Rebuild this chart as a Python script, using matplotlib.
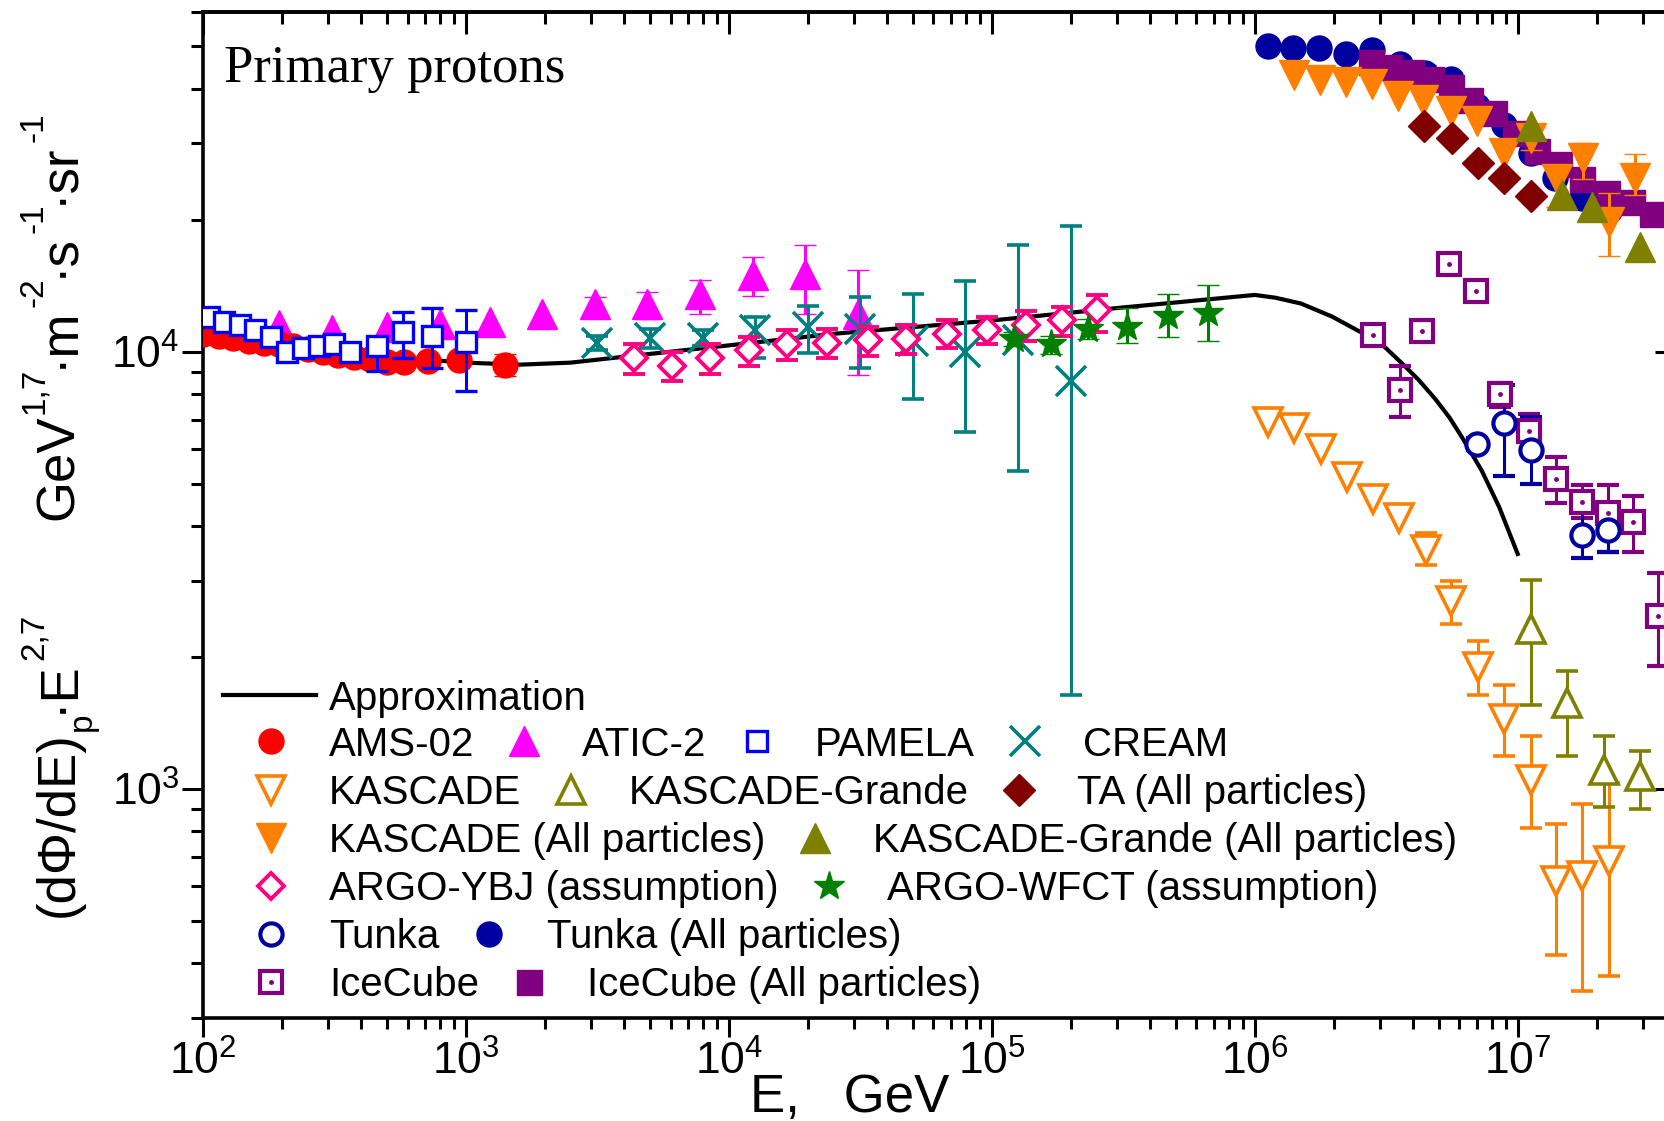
import numpy as np
import matplotlib
matplotlib.use("Agg")
import matplotlib.pyplot as plt
from matplotlib.lines import Line2D
from matplotlib.ticker import FuncFormatter, NullFormatter
from matplotlib.font_manager import FontProperties

plt.rcParams["font.family"] = ["Liberation Sans", "DejaVu Sans"]
plt.rcParams["mathtext.fontset"] = "custom"
plt.rcParams["mathtext.rm"] = "Liberation Sans"
plt.rcParams["mathtext.it"] = "Liberation Sans:italic"
plt.rcParams["mathtext.default"] = "regular"

nan = np.nan

# ---- data (E in GeV, flux * E^2.7) ----
approx_E = [1e2, 2e2, 5e2, 1e3, 1.6e3, 2.5e3, 4e3, 1e4, 2.5e4, 1e5, 3e5, 1e6, 1.2e6, 1.5e6,
            1.97e6, 2.57e6, 3.1e6, 3.64e6, 4.2e6, 4.87e6, 5.5e6, 6.15e6, 7.3e6, 8.5e6, 1e7]
approx_F = [1.10e4, 1.045e4, 9.75e3, 9.45e3, 9.35e3, 9.45e3, 9.75e3, 1.035e4, 1.10e4, 1.18e4,
            1.26e4, 1.35e4, 1.33e4, 1.29e4, 1.204e4, 1.104e4, 1.03e4, 9.4e3, 8.63e3, 7.79e3,
            7.08e3, 6.37e3, 5.35e3, 4.42e3, 3.45e3]

ams_E = [100, 115, 130, 150, 170, 195, 220, 250, 285, 325, 375, 430, 500, 580, 720, 940, 1410]
ams_F = [1.10e4, 1.09e4, 1.075e4, 1.06e4, 1.05e4, 1.04e4, 1.03e4, 1.015e4, 1.0e4, 9.85e3,
         9.75e3, 9.65e3, 9.5e3, 9.5e3, 9.55e3, 9.6e3, 9.35e3]
ams_lo = [nan] * 16 + [8.8e3]
ams_hi = [nan] * 16 + [9.9e3]

pamela_E = [105, 120, 138, 158, 182, 209, 240, 275, 316, 363, 457, 575, 741, 1000]
pamela_F = [1.20e4, 1.17e4, 1.15e4, 1.12e4, 1.08e4, 1.0e4, 1.02e4, 1.03e4, 1.04e4, 1.0e4,
            1.03e4, 1.11e4, 1.085e4, 1.055e4]
pamela_lo = [nan] * 10 + [9.03e3, 9.68e3, 9.19e3, 8.16e3]
pamela_hi = [nan] * 10 + [1.084e4, 1.236e4, 1.262e4, 1.247e4]

atic_E = [195, 309, 501, 794, 1230, 1950, 3090, 4900, 7760, 12300, 19500, 30900]
atic_F = [1.15e4, 1.12e4, 1.14e4, 1.16e4, 1.17e4, 1.22e4, 1.29e4, 1.29e4, 1.36e4, 1.50e4,
          1.51e4, 1.22e4]
atic_lo = [nan, nan, nan, nan, nan, nan, 1.225e4, 1.19e4, 1.22e4, 1.34e4, 1.22e4, 8.85e3]
atic_hi = [nan, nan, nan, nan, nan, nan, 1.335e4, 1.37e4, 1.46e4, 1.65e4, 1.76e4, 1.54e4]

cream_E = [3160, 5010, 7940, 12600, 19950, 31600, 50100, 79400, 125900, 199500]
cream_F = [1.05e4, 1.075e4, 1.075e4, 1.12e4, 1.14e4, 1.13e4, 1.06e4, 1.0e4, 1.065e4, 8.6e3]
cream_lo = [1.01e4, 1.02e4, 1.03e4, 9.7e3, 9.94e3, 9.2e3, 7.8e3, 6.55e3, 5.35e3, 1.64e3]
cream_hi = [1.09e4, 1.13e4, 1.12e4, 1.20e4, 1.275e4, 1.335e4, 1.36e4, 1.45e4, 1.76e4, 1.94e4]

argo_E = [4365, 6095, 8510, 11885, 16600, 23710, 33900, 47300, 67600, 95500, 134900,
          184100, 251200]
argo_F = [9.7e3, 9.3e3, 9.7e3, 1.01e4, 1.04e4, 1.05e4, 1.065e4, 1.07e4, 1.10e4, 1.12e4,
          1.15e4, 1.18e4, 1.25e4]
argo_lo = [8.9e3, 8.6e3, 8.9e3, 9.3e3, 9.6e3, 9.7e3, 9.8e3, 9.9e3, 1.02e4, 1.04e4, 1.06e4,
           1.09e4, 1.11e4]
argo_hi = [1.04e4, 1.0e4, 1.04e4, 1.08e4, 1.12e4, 1.13e4, 1.14e4, 1.15e4, 1.18e4, 1.20e4,
           1.24e4, 1.27e4, 1.35e4]

wfct_E = [121600, 168300, 232800, 328100, 466700, 665300]
wfct_F = [1.07e4, 1.04e4, 1.13e4, 1.14e4, 1.21e4, 1.23e4]
wfct_lo = [1.03e4, 9.9e3, 1.07e4, 1.05e4, 1.08e4, 1.06e4]
wfct_hi = [1.11e4, 1.09e4, 1.19e4, 1.26e4, 1.36e4, 1.42e4]

kas_E = [1.12e6, 1.41e6, 1.78e6, 2.25e6, 2.82e6, 3.53e6, 4.47e6, 5.6e6, 7.06e6, 8.85e6,
         1.12e7, 1.4e7, 1.75e7, 2.22e7]
kas_F = [6.9e3, 6.7e3, 6.0e3, 5.17e3, 4.62e3, 4.16e3, 3.52e3, 2.69e3, 1.90e3, 1.45e3,
         1.05e3, 616, 634, 686]
kas_lo = [nan] * 6 + [3.26e3, 2.39e3, 1.64e3, 1.19e3, 815, 417, 346, 374]
kas_hi = [nan] * 6 + [3.85e3, 2.99e3, 2.18e3, 1.73e3, 1.32e3, 834, 926, 1.03e3]

kg_E = [1.12e7, 1.54e7, 2.12e7, 2.92e7]
kg_F = [2.32e3, 1.57e3, 1.107e3, 1.07e3]
kg_lo = [1.56e3, 1.19e3, 908, 901]
kg_hi = [3.01e3, 1.86e3, 1.32e3, 1.22e3]

tunka_E = [7.01e6, 8.85e6, 1.12e7, 1.75e7, 2.2e7]
tunka_F = [6.15e3, 6.89e3, 5.97e3, 3.81e3, 3.91e3]
tunka_lo = [5.95e3, 5.19e3, 4.99e3, 3.37e3, 3.49e3]
tunka_hi = [6.35e3, 8.42e3, 7.08e3, 4.42e3, 4.37e3]

ice_E = [2.81e6, 3.56e6, 4.34e6, 5.47e6, 6.92e6, 8.59e6, 1.10e7, 1.40e7, 1.75e7, 2.20e7,
         2.75e7, 3.43e7]
ice_F = [1.094e4, 8.2e3, 1.117e4, 1.59e4, 1.378e4, 8.0e3, 6.6e3, 5.13e3, 4.54e3, 4.27e3,
         4.08e3, 2.49e3]
ice_lo = [nan, 7.08e3, nan, nan, nan, 7.5e3, 6.27e3, 4.51e3, 4.17e3, 3.49e3, 3.49e3, 1.91e3]
ice_hi = [nan, 9.27e3, nan, nan, nan, 8.5e3, 7.21e3, 5.74e3, 4.95e3, 4.95e3, 4.68e3, 3.12e3]

tunka_all_E = [1.12e6, 1.40e6, 1.76e6, 2.23e6, 2.79e6, 3.56e6, 4.44e6, 5.56e6, 7.02e6,
               8.85e6, 1.12e7, 1.39e7, 1.75e7, 2.22e7]
tunka_all_F = [5.0e4, 4.95e4, 4.95e4, 4.8e4, 4.9e4, 4.55e4, 4.35e4, 4.2e4, 3.65e4, 3.3e4,
               2.85e4, 2.5e4, 2.25e4, 2.1e4]
tunka_all_lo = [nan, nan, nan, nan, 4.7e4, 4.37e4, 4.18e4, 4.03e4, nan, nan, nan, nan, nan, nan]
tunka_all_hi = [nan, nan, nan, nan, 5.1e4, 4.73e4, 4.52e4, 4.37e4, nan, nan, nan, nan, nan, nan]

ice_all_E = [2.76e6, 3.24e6, 3.92e6, 4.67e6, 5.56e6, 6.61e6, 8.11e6, 9.79e6, 1.18e7, 1.43e7,
             1.75e7, 2.18e7, 2.72e7, 3.24e7]
ice_all_F = [4.6e4, 4.49e4, 4.37e4, 4.22e4, 4.04e4, 3.77e4, 3.52e4, 3.16e4, 2.88e4, 2.69e4,
             2.48e4, 2.31e4, 2.2e4, 2.07e4]

kas_all_E = [1.41e6, 1.77e6, 2.23e6, 2.80e6, 3.51e6, 4.37e6, 5.56e6, 7.0e6, 8.85e6, 1.12e7,
             1.41e7, 1.77e7, 2.22e7, 2.80e7]
kas_all_F = [4.3e4, 4.18e4, 4.15e4, 4.11e4, 3.84e4, 3.77e4, 3.55e4, 3.37e4, 2.85e4, 3.08e4,
             2.48e4, 2.78e4, 1.98e4, 2.5e4]
kas_all_lo = [nan] * 9 + [2.9e4, 2.15e4, 2.49e4, 1.66e4, 2.28e4]
kas_all_hi = [nan] * 9 + [3.2e4, 2.65e4, 3.0e4, 2.31e4, 2.83e4]

ta_E = [4.40e6, 5.62e6, 7.06e6, 8.85e6, 1.12e7]
ta_F = [3.28e4, 3.08e4, 2.7e4, 2.5e4, 2.27e4]

kg_all_E = [1.12e7, 1.48e7, 1.91e7, 2.92e7]
kg_all_F = [3.28e4, 2.28e4, 2.14e4, 1.74e4]

# ---- styles ----
RED, MAG, BLUE, TEAL = "#FF0000", "#FF00FF", "#0000FF", "#008080"
ORANGE, OLIVE, DRED, PINK = "#FF8000", "#808000", "#800000", "#FF0080"
GREEN, NAVY, PURPLE = "#008000", "#0000A0", "#800080"

sty = {
    "ams": dict(marker="o", ms=18, mfc=RED, mec=RED, mew=1, color=RED),
    "atic": dict(marker="^", ms=21, mfc=MAG, mec=MAG, mew=1, color=MAG),
    "pamela": dict(marker="s", ms=15, mfc="white", mec=BLUE, mew=2.4, color=BLUE),
    "cream": dict(marker="x", ms=21, mec=TEAL, mew=2.6, color=TEAL),
    "kas": dict(marker="v", ms=20, mfc="white", mec=ORANGE, mew=2.6, color=ORANGE),
    "kg": dict(marker="^", ms=20, mfc="white", mec=OLIVE, mew=2.6, color=OLIVE),
    "ta": dict(marker="D", ms=16, mfc=DRED, mec=DRED, mew=1, color=DRED),
    "kas_all": dict(marker="v", ms=21, mfc=ORANGE, mec=ORANGE, mew=1, color=ORANGE),
    "kg_all": dict(marker="^", ms=21, mfc=OLIVE, mec=OLIVE, mew=1, color=OLIVE),
    "argo": dict(marker="D", ms=13, mfc="white", mec=PINK, mew=2.8, color=PINK),
    "wfct": dict(marker="*", ms=22, mfc=GREEN, mec=GREEN, mew=1, color=GREEN),
    "tunka": dict(marker="o", ms=16, mfc="white", mec=NAVY, mew=3, color=NAVY),
    "tunka_all": dict(marker="o", ms=18, mfc=NAVY, mec=NAVY, mew=1, color=NAVY),
    "ice": dict(marker="s", ms=16, mfc="white", mec=PURPLE, mew=3, color=PURPLE),
    "ice_all": dict(marker="s", ms=18, mfc=PURPLE, mec=PURPLE, mew=1, color=PURPLE),
}
ice_dot = dict(marker="o", ms=3.5, mfc=PURPLE, mec=PURPLE, mew=0, color=PURPLE)

W, H = 1665, 1121
fig = plt.figure(figsize=(W / 100, H / 100), dpi=100)
ax = fig.add_axes([203 / W, 1 - 1017.7 / H, (1676 - 203) / W, (1017.7 - 11.7) / H])
ax.set_xscale("log")
ax.set_yscale("log")


def draw(E, F, st, lo=None, hi=None, z=3):
    E = np.asarray(E, float)
    F = np.asarray(F, float)
    if lo is None:
        ax.plot(E, F, ls="none", zorder=z, **st)
    else:
        yerr = [F - np.asarray(lo, float), np.asarray(hi, float) - F]
        ax.errorbar(E, F, yerr=yerr, ls="none", capsize=8, elinewidth=2.2, capthick=2.2,
                    ecolor=st["color"], zorder=z, **st)


ax.plot(approx_E, approx_F, color="black", lw=3, zorder=2)

draw(atic_E, atic_F, sty["atic"], atic_lo, atic_hi, z=3)
draw(ams_E, ams_F, sty["ams"], ams_lo, ams_hi, z=4)
draw(pamela_E, pamela_F, sty["pamela"], pamela_lo, pamela_hi, z=5)
draw(cream_E, cream_F, sty["cream"], cream_lo, cream_hi, z=5)
draw(argo_E, argo_F, sty["argo"], argo_lo, argo_hi, z=6)
draw(wfct_E, wfct_F, sty["wfct"], wfct_lo, wfct_hi, z=6)
draw(kas_E, kas_F, sty["kas"], kas_lo, kas_hi, z=5)
draw(kg_E, kg_F, sty["kg"], kg_lo, kg_hi, z=5)
draw(tunka_all_E, tunka_all_F, sty["tunka_all"], tunka_all_lo, tunka_all_hi, z=4)
draw(ice_all_E, ice_all_F, sty["ice_all"], z=5)
draw(kas_all_E, kas_all_F, sty["kas_all"], kas_all_lo, kas_all_hi, z=6)
draw(kg_all_E, kg_all_F, sty["kg_all"], z=7)
draw(ta_E, ta_F, sty["ta"], z=7)
draw(ice_E, ice_F, sty["ice"], ice_lo, ice_hi, z=6)
ax.plot(ice_E, ice_F, ls="none", zorder=6.5, **ice_dot)
draw(tunka_E, tunka_F, sty["tunka"], tunka_lo, tunka_hi, z=6)

ax.set_xlim(1e2, 4e7)
ax.set_ylim(300, 6e4)

# ---- axes styling ----
for s in ax.spines.values():
    s.set_linewidth(2.6)
fmt = FuncFormatter(lambda v, p: "10$^{%d}$" % int(round(np.log10(v))))
ax.xaxis.set_major_formatter(fmt)
ax.yaxis.set_major_formatter(fmt)
ax.xaxis.set_minor_formatter(NullFormatter())
ax.yaxis.set_minor_formatter(NullFormatter())
ax.tick_params(axis="x", which="major", direction="out", length=13.5, width=2.2, pad=3,
               labelsize=32, top=False)
ax.tick_params(axis="x", which="minor", direction="out", length=8, width=2.2, top=False)
ax.tick_params(axis="y", which="major", direction="out", length=15, width=2.2, pad=2,
               labelsize=32, right=False)
ax.tick_params(axis="y", which="minor", direction="out", length=8.6, width=2.2, right=False)

top = ax.secondary_xaxis("top")
top.tick_params(which="major", direction="in", length=16, width=2.2, labeltop=False)
top.tick_params(which="minor", direction="in", length=8.6, width=2.2)
top.xaxis.set_major_formatter(NullFormatter())
top.spines["top"].set_linewidth(2.6)
right = ax.secondary_yaxis("right")
right.tick_params(which="major", direction="in", length=15, width=2.2, labelright=False)
right.tick_params(which="minor", direction="in", length=8.6, width=2.2)
right.yaxis.set_major_formatter(NullFormatter())

# ---- texts ----
fig.text(224 / W, 1 - 81.7 / H, "Primary protons", family="Liberation Serif", fontsize=38,
         va="baseline", ha="left")
fig.text(750 / W, 1 - 1112 / H, "E,   GeV", fontsize=38, va="baseline", ha="left")

fig.canvas.draw()
renderer = fig.canvas.get_renderer()


def rotated_label(pieces, x_base, y_top_px):
    # lays out text pieces upward along a vertical baseline (rotated 90 deg)
    y = H - y_top_px
    for s, size, shift in pieces:
        fig.text((x_base - shift) / W, y / H, s, fontsize=size, rotation=90,
                 rotation_mode="anchor", ha="left", va="baseline")
        w, _, _ = renderer.get_text_width_height_descent(
            s, FontProperties(family="Liberation Sans", size=size), ismath=False)
        y += w


rotated_label([("(dΦ/dE)", 38, 0), ("p", 24, -18), ("·E", 38, 0), ("2,7", 24, 30)],
              73, 917)
rotated_label([("GeV", 38, 0), ("1,7", 24, 30), ("·m", 38, 0), ("-2", 24, 30),
               ("·s", 38, 0), ("-1", 24, 30), ("·sr", 38, 0), ("-1", 24, 30)],
              73, 520)

# ---- legend (manual rows) ----
LFS = 29
fig.add_artist(Line2D([223 / W, 316 / W], [1 - 695 / H] * 2, transform=fig.transFigure,
                      color="black", lw=3))
fig.text(329 / W, 1 - (695 + 14.5) / H, "Approximation", fontsize=LFS, va="baseline")

rows = [
    (741, [("AMS-02", "ams"), ("ATIC-2", "atic"), ("PAMELA", "pamela"), ("CREAM", "cream")]),
    (790, [("KASCADE", "kas"), ("KASCADE-Grande", "kg"), ("TA (All particles)", "ta")]),
    (838, [("KASCADE (All particles)", "kas_all"), ("KASCADE-Grande (All particles)", "kg_all")]),
    (886, [("ARGO-YBJ (assumption)", "argo"), ("ARGO-WFCT (assumption)", "wfct")]),
    (934, [("Tunka", "tunka"), ("Tunka (All particles)", "tunka_all")]),
    (982, [("IceCube", "ice"), ("IceCube (All particles)", "ice_all")]),
]
for yrow, items in rows:
    x = 271
    for label, key in items:
        fig.add_artist(Line2D([x / W], [1 - yrow / H], transform=fig.transFigure,
                              ls="none", **sty[key]))
        if key == "ice":
            fig.add_artist(Line2D([x / W], [1 - yrow / H], transform=fig.transFigure,
                                  ls="none", **ice_dot))
        t = fig.text((x + 58) / W, 1 - (yrow + 14.5) / H, label, fontsize=LFS, va="baseline")
        bb = t.get_window_extent(renderer=renderer)
        x = bb.x1 + 50

fig.savefig("out.png", dpi=100)
